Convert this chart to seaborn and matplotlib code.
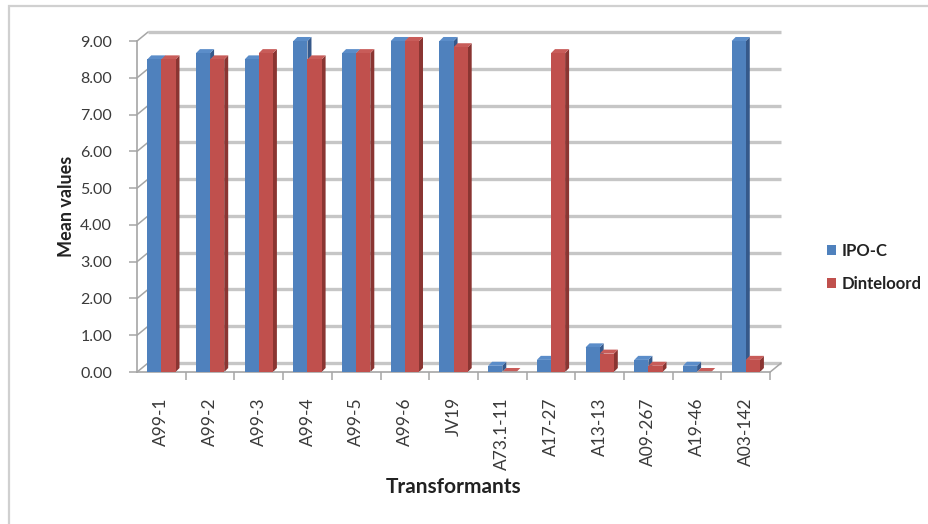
import matplotlib
matplotlib.use("Agg")
import matplotlib.pyplot as plt
from matplotlib.patches import Polygon, Rectangle, ConnectionPatch
from matplotlib.transforms import ScaledTranslation
import numpy as np
import pandas as pd
import seaborn as sns

# Transformant lines and mean scores for the two parental cultivars
transformants = ["A99-1", "A99-2", "A99-3", "A99-4", "A99-5", "A99-6", "JV19",
                 "A73.1-11", "A17-27", "A13-13", "A09-267", "A19-46", "A03-142"]
ipo_c = [8.50, 8.67, 8.50, 9.00, 8.67, 9.00, 9.00, 0.17, 0.33, 0.67, 0.33, 0.17, 9.00]
dinteloord = [8.50, 8.50, 8.67, 8.50, 8.67, 9.00, 8.83, 0.00, 8.67, 0.50, 0.17, 0.00, 0.33]
series_names = ["IPO-C", "Dinteloord"]
y_ticks = [0, 1, 2, 3, 4, 5, 6, 7, 8, 9]

colors = ["#4F81BD", "#C0504D"]
side_colors = ["#36598A", "#8A3532"]
top_colors = ["#5B8DC9", "#C85C59"]
grid_color = "#C6C6C6"
axis_color = "#A6A6A6"

df = pd.DataFrame({
    "Transformants": transformants * 2,
    "Mean values": ipo_c + dinteloord,
    "Cultivar": [series_names[0]] * len(transformants) + [series_names[1]] * len(transformants),
})

sns.set_theme(style="white")
plt.rcParams["font.family"] = ["Lato", "DejaVu Sans"]

fig = plt.figure(figsize=(9.29, 5.24), dpi=100)
ax = fig.add_axes([0.1475, 0.290, 0.6815, 0.6317])

sns.barplot(data=df, x="Transformants", y="Mean values", hue="Cultivar",
            palette=colors, width=0.58, gap=0, saturation=1, ax=ax,
            linewidth=0, zorder=3)

ax.set_ylim(0, 9)
ax.set_xlim(-0.5, len(transformants) - 0.5)
x0, x1 = ax.get_xlim()

# give each column a shallow depth: a darker right face and a lit top face
dx, dy = 0.082, 0.11
for container, sc, tc in zip(ax.containers, side_colors, top_colors):
    for bar in container:
        x, w, h = bar.get_x(), bar.get_width(), bar.get_height()
        side = Polygon([(x + w, 0), (x + w, h), (x + w + dx, h + dy), (x + w + dx, dy)],
                       closed=True, facecolor=sc, edgecolor="none", zorder=2.5, clip_on=False)
        top = Polygon([(x, h), (x + w, h), (x + w + dx, h + dy), (x + dx, h + dy)],
                      closed=True, facecolor=tc, edgecolor="none", zorder=2.5, clip_on=False)
        ax.add_patch(side)
        ax.add_patch(top)

# gridlines sit on the back wall, set back from the value axis
back = ax.transData + ScaledTranslation(11 / 100, 9 / 100, fig.dpi_scale_trans)
for v in y_ticks:
    ax.plot([x0, x1], [v, v], transform=back, color=grid_color, linewidth=2.4,
            zorder=0.5, clip_on=False, solid_capstyle="butt")
    ax.add_artist(ConnectionPatch(xyA=(x0, v), coordsA=ax.transData,
                                  xyB=(x0, v), coordsB=back,
                                  color=axis_color, linewidth=1.1, zorder=0.6))
ax.add_artist(ConnectionPatch(xyA=(x1, 0), coordsA=ax.transData,
                              xyB=(x1, 0), coordsB=back,
                              color=axis_color, linewidth=1.1, zorder=0.6))
ax.grid(False)

ax.set_yticks(y_ticks)
ax.set_yticklabels([f"{v:.2f}" for v in y_ticks])

for s in ["top", "right"]:
    ax.spines[s].set_visible(False)
for s in ["left", "bottom"]:
    ax.spines[s].set_color(axis_color)
    ax.spines[s].set_linewidth(1.2)

ax.tick_params(axis="y", which="major", left=True, length=6, width=1.1, color=axis_color,
               labelsize=11.5, labelcolor="#3A3A3A", pad=12)
ax.set_xticks(np.arange(len(transformants)))
ax.set_xticklabels(transformants, rotation=90, fontsize=12.5, color="#3A3A3A")
ax.tick_params(axis="x", which="major", length=0, pad=18)
ax.set_xticks(np.arange(len(transformants)) + 0.5, minor=True)
ax.tick_params(axis="x", which="minor", bottom=True, length=6, width=1.1, color=axis_color)

ax.set_xlabel("Transformants", fontsize=15, fontweight="bold", color="#222222", labelpad=5)
ax.set_ylabel("Mean values", fontsize=13, fontweight="bold", color="#222222", labelpad=4)

handles, labels = ax.get_legend_handles_labels()
ax.legend(handles, labels, loc="center left", bbox_to_anchor=(0.874, 0.49),
          bbox_transform=fig.transFigure, frameon=False,
          handlelength=0.55, handleheight=0.55, handletextpad=0.35, labelspacing=1.0,
          prop={"weight": "bold", "size": 12})
for t in ax.get_legend().get_texts():
    t.set_color("#222222")

# outer chart-area border
fig.patches.append(Rectangle((9 / 929, -0.05), 1.1, 1.05 - 6 / 524,
                             transform=fig.transFigure, fill=False,
                             edgecolor="#D0D0D0", linewidth=1.6))

fig.savefig("out.png", dpi=100)
